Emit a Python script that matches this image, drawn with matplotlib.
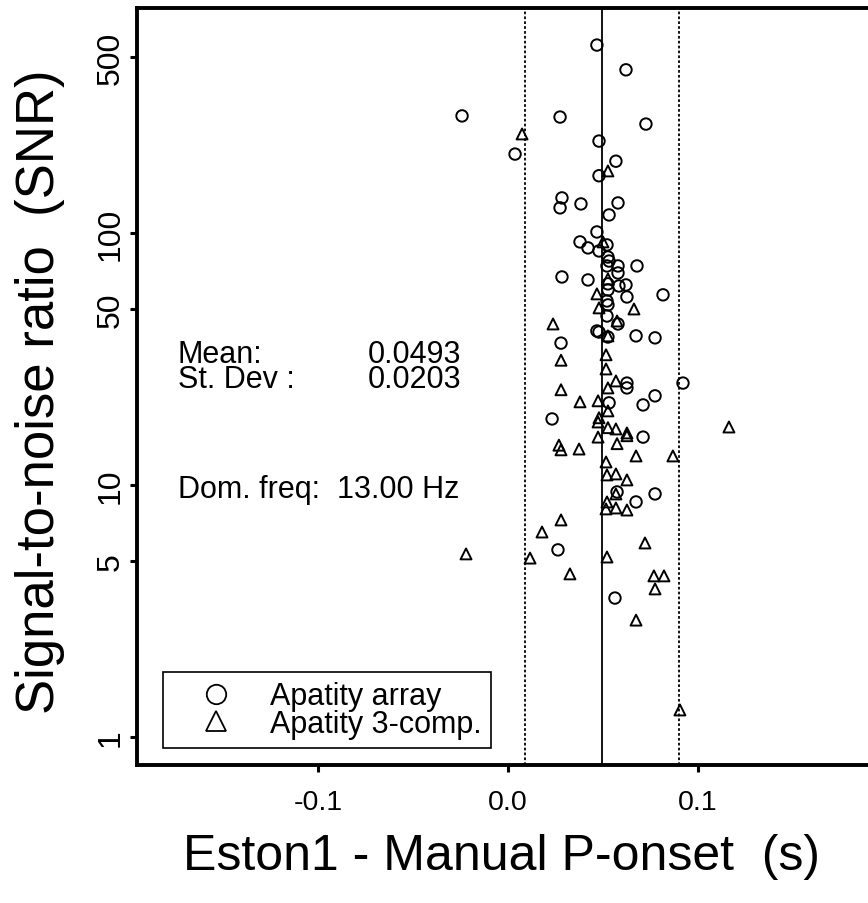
import matplotlib
matplotlib.use("Agg")
import matplotlib.pyplot as plt
from matplotlib.lines import Line2D

plt.rcParams['font.family'] = ['Liberation Sans', 'DejaVu Sans']

# Onset time differences (s) and SNR, array picks
array_dt = [0.0468, 0.0621, -0.0242, 0.0274, 0.0726, 0.0037, 0.0479, 0.0568, 0.0479, 0.0284,
            0.0274, 0.0384, 0.0579, 0.0532, 0.0468, 0.0379, 0.0521, 0.0421, 0.0479, 0.0526,
            0.0532, 0.0521, 0.0579, 0.0679, 0.0579, 0.0284, 0.0421, 0.0526, 0.0584, 0.0621,
            0.0526, 0.0816, 0.0626, 0.0521, 0.0526, 0.0521, 0.0579, 0.0468, 0.0479, 0.0526,
            0.0674, 0.0774, 0.0279, 0.0626, 0.0626, 0.0921, 0.0774, 0.0532, 0.0711, 0.0232,
            0.0711, 0.0574, 0.0774, 0.0674, 0.0263, 0.0563]
array_snr = [558, 445, 292, 289, 271, 206, 232, 193, 169, 138,
             126, 130.6, 131.8, 118.1, 101.1, 92.3, 89.8, 87.4, 85.0, 80.4,
             77.5, 74.1, 74.1, 74.1, 69.5, 67.0, 65.2, 62.9, 61.7, 62.3,
             59.5, 56.9, 55.8, 53.8, 51.9, 46.9, 43.6, 40.9, 40.5, 38.7,
             39.1, 38.4, 36.6, 25.4, 24.3, 25.4, 22.6, 21.2, 20.8, 18.3,
             15.5, 9.39, 9.22, 8.57, 5.53, 3.56]

# Three-component station picks
comp3_dt = [0.0074, 0.0526, 0.0500, 0.0526, 0.0468, 0.0479, 0.0663, 0.0237, 0.0574, 0.0526,
            0.0279, 0.0516, 0.0516, 0.0568, 0.0526, 0.0279, 0.0379, 0.0474, 0.0526, 0.0479,
            0.0474, 0.0526, 0.0568, 0.0626, 0.0626, 0.0474, 0.0574, 0.0268, 0.0279, 0.0374,
            0.0674, 0.0868, 0.1163, 0.0516, 0.0521, 0.0568, 0.0626, 0.0568, 0.0521, 0.0516,
            0.0568, 0.0626, 0.0279, 0.0179, 0.0721, -0.0221, 0.0116, 0.0521, 0.0326, 0.0768,
            0.0821, 0.0774, 0.0674, 0.0905]
comp3_snr = [247.6, 176.6, 92.3, 65.8, 57.4, 50.5, 50.0, 43.6, 44.8, 39.1,
             31.3, 32.9, 28.9, 25.9, 24.3, 23.9, 21.4, 21.6, 19.7, 18.5,
             17.8, 16.9, 16.7, 16.1, 15.7, 15.5, 14.6, 14.4, 13.8, 13.9,
             13.05, 13.05, 17.0, 12.35, 10.97, 11.07, 10.48, 9.22, 8.57, 8.04,
             8.11, 7.96, 7.27, 6.51, 5.89, 5.33, 5.13, 5.18, 4.44, 4.36,
             4.36, 3.87, 2.91, 1.28]

mean_dt = 0.0493
std_dt = 0.0203
dom_freq = 13.00

y_ticks = [1, 5, 10, 50, 100, 500]
x_ticks = [-0.1, 0.0, 0.1]

fig = plt.figure(figsize=(8.68, 9.04), dpi=100)
ax = fig.add_axes([137 / 868, 1 - 766 / 904, 731 / 868, 757 / 904])

ax.scatter(array_dt, array_snr, s=68, marker='o', facecolors='none',
           edgecolors='black', linewidths=1.4, zorder=3)
ax.scatter(comp3_dt, comp3_snr, s=62, marker='^', facecolors='none',
           edgecolors='black', linewidths=1.4, zorder=3)

# mean and +/- 2 sigma
ax.axvline(mean_dt, color='black', lw=1.3, zorder=2)
ax.axvline(mean_dt - 2 * std_dt, color='black', lw=1.3, ls=(0, (1.5, 1.2)), zorder=2)
ax.axvline(mean_dt + 2 * std_dt, color='black', lw=1.3, ls=(0, (1.5, 1.2)), zorder=2)

ax.set_yscale('log')
ax.set_xlim(-0.1953, 0.1895)
ax.set_ylim(0.774, 783)
ax.set_yticks(y_ticks)
ax.set_yticklabels([str(t) for t in y_ticks], rotation=90, va='center', fontsize=23)
ax.yaxis.set_minor_locator(matplotlib.ticker.NullLocator())
ax.set_xticks(x_ticks)
ax.set_xticklabels(['-0.1', '0.0', '0.1'], fontsize=20.5)

for side in ['left', 'top', 'bottom']:
    ax.spines[side].set_linewidth(2.8)
ax.spines['right'].set_visible(False)
ax.tick_params(axis='both', direction='out', length=5, width=2.2)
ax.tick_params(axis='y', pad=3)
ax.tick_params(axis='x', pad=12)

ax.set_xlabel('Eston1 - Manual P-onset  (s)', fontsize=36, va='center')
ax.xaxis.set_label_coords(0.499, -0.1200)
ax.set_ylabel('Signal-to-noise ratio  (SNR)', fontsize=38, va='center')
ax.yaxis.set_label_coords(-0.1330, 0.494)

# statistics block: two tight lines per column
txt = dict(transform=ax.transAxes, fontsize=22, va='center', linespacing=0.82)
ax.text(0.056, 0.5264, 'Mean:\nSt. Dev :', **txt)
ax.text(0.316, 0.5264, f'{mean_dt:.4f}\n{std_dt:.4f}', **txt)
ax.text(0.056, 0.3646, f'Dom. freq:  {dom_freq:.2f} Hz', transform=ax.transAxes,
        fontsize=22, va='center')

handles = [
    Line2D([], [], marker='o', ls='none', mfc='none', mec='black', ms=14, mew=1.3),
    Line2D([], [], marker='^', ls='none', mfc='none', mec='black', ms=14, mew=1.3),
]
leg = ax.legend(handles, ['Apatity array', 'Apatity 3-comp.'], loc='lower left',
                bbox_to_anchor=(0.0356, 0.0225), fontsize=22, frameon=True, fancybox=False,
                edgecolor='black', framealpha=1, borderpad=0.3, labelspacing=-0.08,
                handletextpad=0.36, handlelength=2.85, borderaxespad=0)
leg.get_frame().set_linewidth(1.2)

fig.savefig('out.png', dpi=100)
